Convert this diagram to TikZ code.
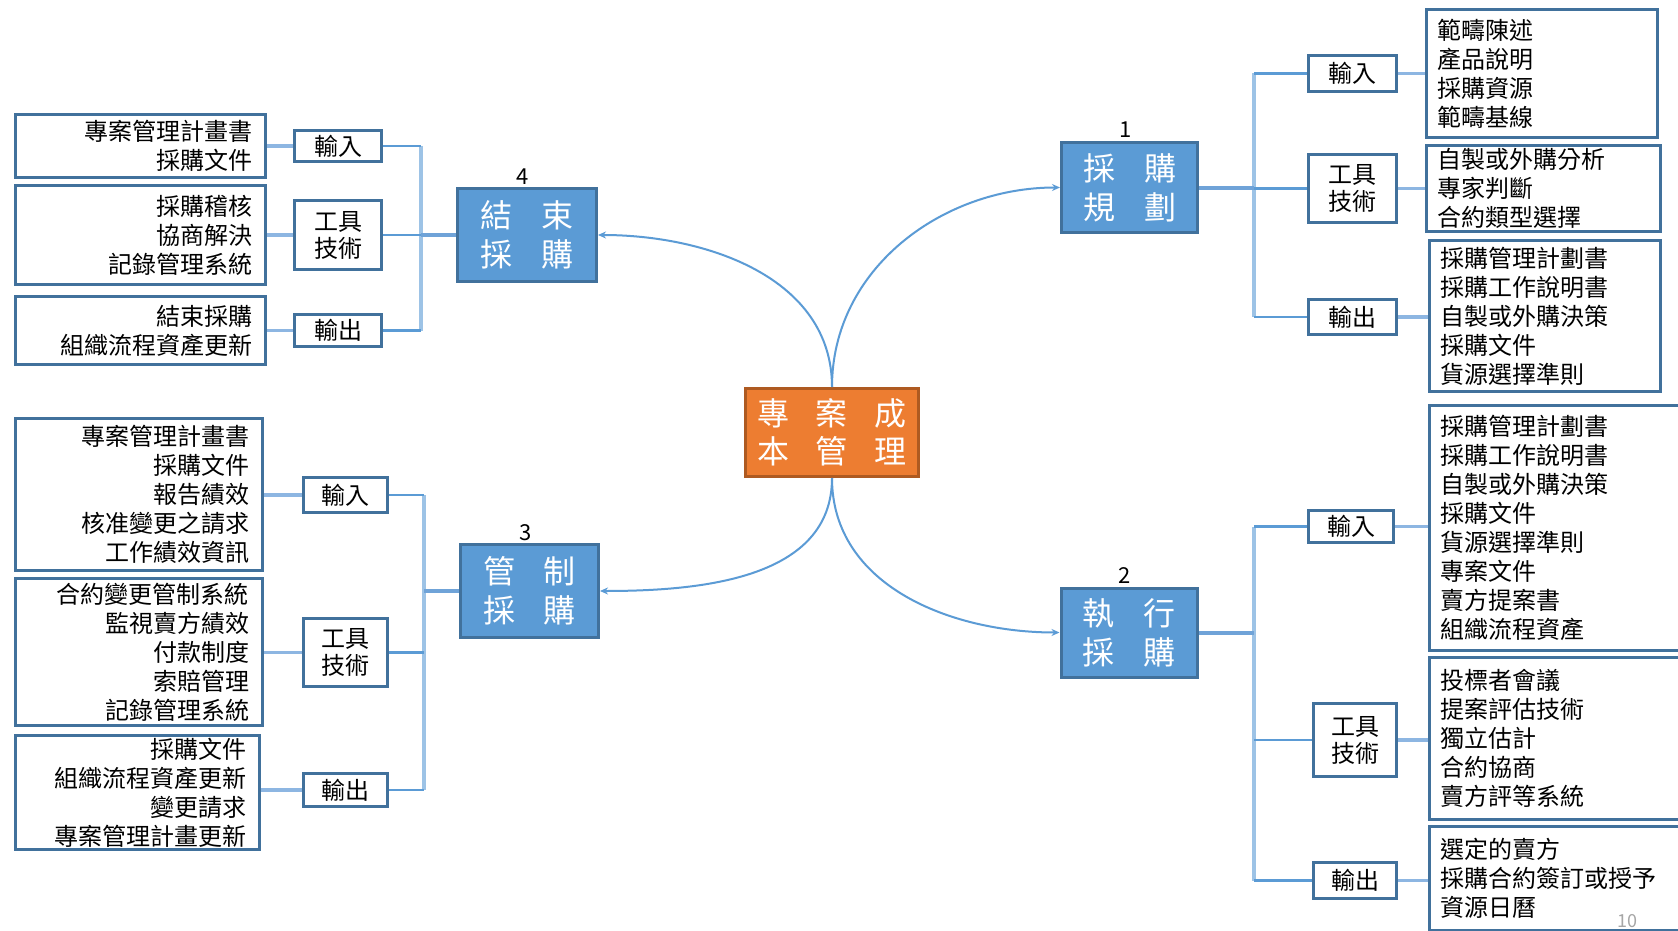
\documentclass[tikz,border=0pt]{standalone}
\usepackage{fontspec}
\newfontfamily\cjk{Noto Sans CJK TC}
\usetikzlibrary{arrows.meta}

\definecolor{procblue}{HTML}{5B9BD5}
\definecolor{procedge}{HTML}{41719C}
\definecolor{rootfill}{HTML}{ED7D31}
\definecolor{rootedge}{HTML}{AE5A21}
\definecolor{barblue}{HTML}{9DC3E6}
\definecolor{linkblue}{HTML}{8DB6E2}
\definecolor{trunkblue}{HTML}{6FA3D8}
\definecolor{pagegray}{HTML}{A6A6A6}

% spacing between the big characters of the process titles
\newcommand\procgap{\hspace{29pt}}
\newcommand\rootgap{\hspace{27pt}}

\begin{document}
\begin{tikzpicture}[x=1pt,y=-1pt,
  root/.style={draw=rootedge, line width=3pt, fill=rootfill, text=white,
    inner sep=0pt, align=center, font={\cjk\fontsize{32pt}{38pt}\selectfont}},
  proc/.style={draw=procedge, line width=3pt, fill=procblue, text=white,
    inner sep=0pt, align=center, font={\cjk\fontsize{32pt}{39pt}\selectfont}},
  num/.style={inner sep=0pt, anchor=base, font={\cjk\fontsize{22pt}{24pt}\selectfont}},
  tag/.style={draw=procedge, line width=3pt, fill=white, inner sep=0pt,
    align=center, font={\cjk\fontsize{24pt}{27pt}\selectfont}},
  listR/.style={draw=procedge, line width=3pt, fill=white, inner xsep=10.5pt,
    inner ysep=0pt, align=left, font={\cjk\fontsize{24pt}{29pt}\selectfont}},
  listL/.style={draw=procedge, line width=3pt, fill=white, inner xsep=13.5pt,
    inner ysep=0pt, align=right, font={\cjk\fontsize{24pt}{29pt}\selectfont}},
  curve/.style={draw=procblue, line width=2pt, -{Stealth[length=8pt,width=7pt]}},
  trunk/.style={draw=trunkblue, line width=4pt},
  bar/.style={draw=barblue, line width=4.5pt},
  branch/.style={draw=procblue, line width=2.5pt},
  link/.style={draw=linkblue, line width=3.5pt},
  pageno/.style={text=pagegray, inner sep=0pt, font={\cjk\fontsize{18pt}{20pt}\selectfont}}
]
\clip (0,0) rectangle (1678,931);
\fill[white] (0,0) rectangle (1678,931);

% ---------- centre and the four processes ----------
\node[root, minimum width=173pt, minimum height=88pt] (root) at (832,432.5)
  {專\rootgap 案\rootgap 成\\本\rootgap 管\rootgap 理};

\node[proc, minimum width=136pt, minimum height=90pt] (p1) at (1129.5,187.5)
  {採\procgap 購\\規\procgap 劃};
\node[proc, minimum width=136pt, minimum height=89pt] (p2) at (1129,632.5)
  {執\procgap 行\\採\procgap 購};
\node[proc, minimum width=138pt, minimum height=93pt] (p3) at (529.5,591)
  {管\procgap 制\\採\procgap 購};
\node[proc, minimum width=139pt, minimum height=93pt] (p4) at (527,235)
  {結\procgap 束\\採\procgap 購};

\node[num] (n1) at ([shift={(-4,-3)}]p1.north) {1};
\node[num] (n2) at ([shift={(-4,-3)}]p2.north) {2};
\node[num] (n3) at ([shift={(-4,-3)}]p3.north) {3};
\node[num] (n4) at ([shift={(-4,-3)}]p4.north) {4};

% ---------- process 1: inputs, tools, outputs ----------
\node[tag, minimum width=88pt, minimum height=36pt] (p1in) at (1352.5,73.5) {輸入};
\node[tag, minimum width=88pt, minimum height=68pt] (p1tool) at (1352.5,188.5) {工具\\技術};
\node[tag, minimum width=88pt, minimum height=35pt] (p1out) at (1352.5,317) {輸出};

\node[listR, text width=210pt, minimum height=128pt] (r1in) at (1542,73.5)
  {範疇陳述\\產品說明\\採購資源\\範疇基線};
\node[listR, text width=213pt, minimum height=86pt] (r1tool) at (1543.5,188.5)
  {自製或外購分析\\專家判斷\\合約類型選擇};
\node[listR, text width=210pt, minimum height=151pt] (r1out) at (1545,316)
  {採購管理計劃書\\採購工作說明書\\自製或外購決策\\採購文件\\貨源選擇準則};

% ---------- process 2 ----------
\node[tag, minimum width=85pt, minimum height=32pt] (p2in) at (1351,526.5) {輸入};
\node[tag, minimum width=83pt, minimum height=73pt] (p2tool) at (1355,740) {工具\\技術};
\node[tag, minimum width=83pt, minimum height=36pt] (p2out) at (1355,880.5) {輸出};

\node[listR, text width=248pt, minimum height=245pt] (r2in) at (1564,528)
  {採購管理計劃書\\採購工作說明書\\自製或外購決策\\採購文件\\貨源選擇準則\\專案文件\\賣方提案書\\組織流程資產};
\node[listR, text width=248pt, minimum height=162pt] (r2tool) at (1564,738.5)
  {投標者會議\\提案評估技術\\獨立估計\\合約協商\\賣方評等系統};
\node[listR, text width=248pt, minimum height=104pt] (r2out) at (1564,878.5)
  {選定的賣方\\採購合約簽訂或授予\\資源日曆};

% ---------- process 4 ----------
\node[tag, minimum width=87pt, minimum height=31pt] (p4in) at (338,146) {輸入};
\node[tag, minimum width=87pt, minimum height=69pt] (p4tool) at (338,235) {工具\\技術};
\node[tag, minimum width=87pt, minimum height=32pt] (p4out) at (338,330.5) {輸出};

\node[listL, text width=223pt, minimum height=63pt] (l4in) at (140.5,146)
  {專案管理計畫書\\採購文件};
\node[listL, text width=223pt, minimum height=99pt] (l4tool) at (140.5,235)
  {採購稽核\\協商解決\\記錄管理系統};
\node[listL, text width=223pt, minimum height=68pt] (l4out) at (140.5,330.5)
  {結束採購\\組織流程資產更新};

% ---------- process 3 ----------
\node[tag, minimum width=84pt, minimum height=35pt] (p3in) at (345.5,495) {輸入};
\node[tag, minimum width=84pt, minimum height=68pt] (p3tool) at (345.5,652.5) {工具\\技術};
\node[tag, minimum width=84pt, minimum height=33pt] (p3out) at (345.5,790) {輸出};

\node[listL, text width=220pt, minimum height=152pt] (l3in) at (139,494.5)
  {專案管理計畫書\\採購文件\\報告績效\\核准變更之請求\\工作績效資訊};
\node[listL, text width=220pt, minimum height=147pt] (l3tool) at (139,652)
  {合約變更管制系統\\監視賣方績效\\付款制度\\索賠管理\\記錄管理系統};
\node[listL, text width=217pt, minimum height=114pt] (l3out) at (137.5,792.5)
  {採購文件\\組織流程資產更新\\變更請求\\專案管理計畫更新};

\node[pageno] (pg) at (1627.5,921.5) {10};

% ---------- curved connectors from the centre ----------
\draw[curve] (root.north) .. controls +(0,-118) and +(-118,0) .. (p1.west);
\draw[curve] (root.north) .. controls +(0,-109) and +(109,0) .. (p4.east);
\draw[curve] (root.south) .. controls +(0,108) and +(-108,0) .. (p2.west);
\draw[curve] (root.south) .. controls +(0,101) and +(101,0) .. (p3.east);

% ---------- tree connectors ----------
\coordinate (j1) at (1254,187.5);
\coordinate (j2) at (1254,632.5);
\coordinate (j3) at (424,591);
\coordinate (j4) at (421,235);

\draw[bar] (p1in.west -| j1) -- (p1out.west -| j1);
\draw[bar] (p2in.west -| j2) -- (p2out.west -| j2);
\draw[bar] (p3in.east -| j3) -- (p3out.east -| j3);
\draw[bar] (p4in.east -| j4) -- (p4out.east -| j4);

\draw[trunk] (p1.east) -- (j1);
\draw[trunk] (p2.east) -- (j2);
\draw[trunk] (p3.west) -- (j3);
\draw[trunk] (p4.west) -- (j4);

\foreach \t in {in,tool,out} {
  \draw[branch] (p1\t.west) -- (p1\t.west -| j1);
  \draw[branch] (p2\t.west) -- (p2\t.west -| j2);
  \draw[branch] (p3\t.east) -- (p3\t.east -| j3);
  \draw[branch] (p4\t.east) -- (p4\t.east -| j4);
  \draw[link] (p1\t.east) -- (p1\t.east -| r1\t.west);
  \draw[link] (p2\t.east) -- (p2\t.east -| r2\t.west);
  \draw[link] (p3\t.west) -- (p3\t.west -| l3\t.east);
  \draw[link] (p4\t.west) -- (p4\t.west -| l4\t.east);
}
\end{tikzpicture}
\end{document}
